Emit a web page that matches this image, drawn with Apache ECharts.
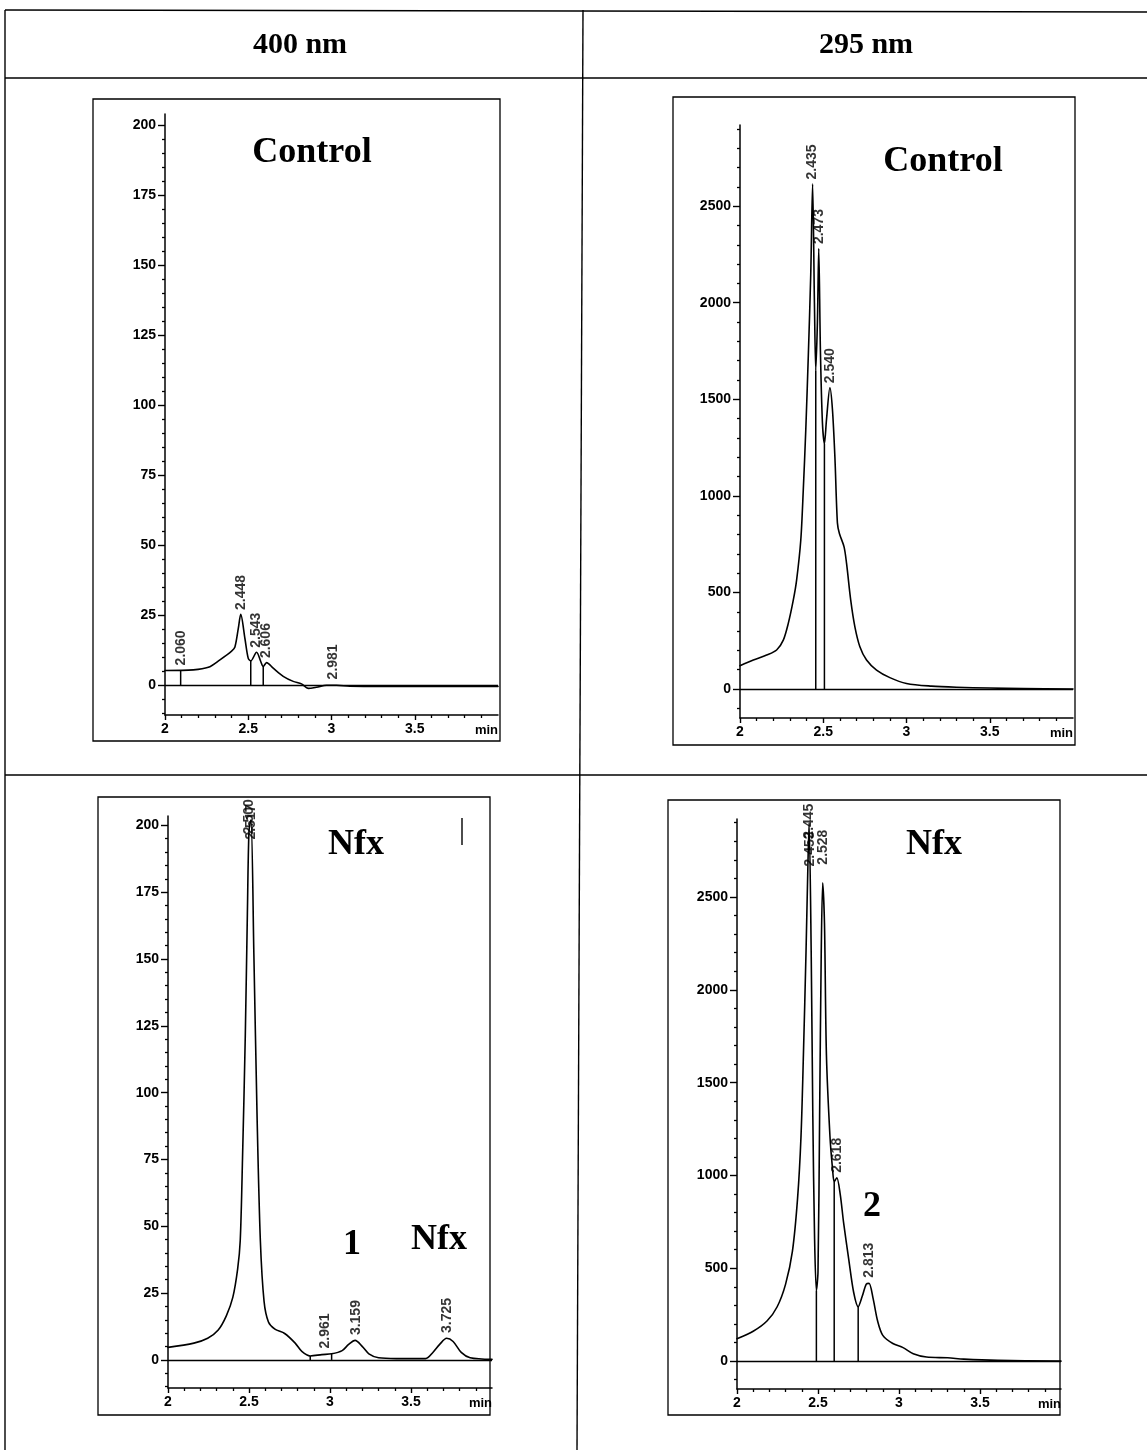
<!DOCTYPE html>
<html>
<head>
<meta charset="utf-8">
<title>Chromatograms 400 nm / 295 nm</title>
<script src="https://cdn.jsdelivr.net/npm/echarts@6/dist/echarts.min.js"></script>
<style>
  html, body { margin: 0; padding: 0; background: #fff; }
  #main { width: 1147px; height: 1450px; }
</style>
</head>
<body>
<div id="main"></div>
<script>
  // 400 nm, control
  var timeA = [2.0, 2.17, 2.26, 2.33, 2.40, 2.42, 2.44, 2.455, 2.48, 2.50, 2.515, 2.55, 2.575, 2.59, 2.61, 2.65, 2.71, 2.77, 2.82, 2.86, 2.91, 2.97, 3.03, 3.11, 3.4, 3.7, 4.0]
  var signalA = [5.4, 5.6, 6.5, 9.2, 12.3, 13.8, 20.3, 25.4, 16.8, 9.7, 8.8, 11.9, 8.6, 6.8, 8.2, 6.2, 3.3, 1.5, 0.6, -1.0, -0.6, 0.1, 0.1, -0.2, -0.3, -0.3, -0.3]
  var dropTimeA = [2.094, 2.515, 2.59]
  var dropHeightA = [5.5, 8.8, 6.8]
  var peakTimeA = [2.094, 2.455, 2.55, 2.61, 3.01]
  var peakHeightA = [5.6, 25.4, 11.9, 8.2, 0.6]
  var peakLabelA = ['2.060', '2.448', '2.543', '2.606', '2.981']

  // 295 nm, control
  var timeB = [2.0, 2.08, 2.16, 2.22, 2.26, 2.29, 2.32, 2.34, 2.365, 2.38, 2.395, 2.41, 2.425, 2.436, 2.447, 2.455, 2.465, 2.473, 2.483, 2.495, 2.507, 2.52, 2.54, 2.555, 2.57, 2.585, 2.597, 2.625, 2.64, 2.665, 2.69, 2.72, 2.76, 2.82, 2.9, 3.0, 3.15, 3.3, 3.5, 3.7, 4.0]
  var signalB = [121, 150, 176, 202, 253, 340, 460, 564, 770, 1029, 1340, 1719, 2150, 2615, 2000, 1650, 1900, 2280, 1750, 1380, 1270, 1400, 1560, 1450, 1200, 860, 805, 736, 650, 460, 322, 219, 150, 98, 59, 29, 15, 9, 5, 2, 0]
  var dropTimeB = [2.455, 2.507]
  var dropHeightB = [1650, 1270]
  var peakTimeB = [2.436, 2.473, 2.54]
  var peakHeightB = [2615, 2280, 1560]
  var peakLabelB = ['2.435', '2.473', '2.540']

  // 400 nm, Nfx
  var timeC = [2.0, 2.16, 2.245, 2.31, 2.36, 2.40, 2.43, 2.446, 2.46, 2.477, 2.49, 2.50, 2.512, 2.53, 2.55, 2.57, 2.593, 2.62, 2.66, 2.72, 2.785, 2.826, 2.878, 2.95, 3.01, 3.075, 3.115, 3.155, 3.2, 3.24, 3.30, 3.41, 3.59, 3.635, 3.677, 3.72, 3.76, 3.81, 3.865, 4.0]
  var signalC = [4.7, 6.3, 8.1, 11.2, 16.5, 23.4, 34.1, 44.8, 75.4, 121, 167, 198, 202, 152, 90.7, 44.8, 21.9, 14.2, 11.5, 9.9, 6.3, 3.2, 1.5, 2.0, 2.3, 3.5, 5.8, 7.3, 5.0, 2.3, 0.8, 0.5, 0.5, 2.8, 5.8, 8.1, 6.9, 2.8, 0.8, 0.2]
  var dropTimeC = [2.878, 3.01]
  var dropHeightC = [1.5, 2.3]
  var peakTimeC = [2.503, 2.513, 2.97, 3.159, 3.725]
  var peakHeightC = [195, 193, 2.6, 7.6, 8.4]
  var peakLabelC = ['2.500', '2.517', '2.961', '3.159', '3.725']

  // 295 nm, Nfx
  var timeD = [2.0, 2.10, 2.185, 2.248, 2.30, 2.342, 2.374, 2.395, 2.41, 2.426, 2.437, 2.445, 2.458, 2.468, 2.479, 2.49, 2.50, 2.51, 2.52, 2.529, 2.54, 2.552, 2.574, 2.59, 2.60, 2.616, 2.637, 2.658, 2.69, 2.72, 2.748, 2.773, 2.798, 2.815, 2.84, 2.868, 2.9, 2.962, 3.025, 3.088, 3.17, 3.30, 3.40, 3.61, 4.0]
  var signalD = [121, 161, 216, 293, 415, 591, 878, 1209, 1650, 2202, 2643, 2900, 2202, 1320, 658, 380, 481, 1320, 2202, 2577, 2357, 1650, 1209, 1033, 966, 988, 900, 746, 547, 371, 293, 349, 415, 419, 338, 216, 139, 95, 73, 40, 22, 18, 11, 4, 0]
  var dropTimeD = [2.49, 2.60, 2.748]
  var dropHeightD = [380, 966, 293]
  var peakTimeD = [2.443, 2.449, 2.529, 2.616, 2.815]
  var peakHeightD = [2790, 2640, 2650, 990, 425]
  var peakLabelD = ['2.445', '2.453', '2.528', '2.618', '2.813']

  // axis ticks
  var xMajor = [2, 2.5, 3, 3.5]
  var yMajorLow = [0, 25, 50, 75, 100, 125, 150, 175, 200]
  var yMajorHigh = [0, 500, 1000, 1500, 2000, 2500]

  var xMinor = []
  for (var k = 21; k < 40; k++) { if (k % 5) xMinor.push(k / 10) }
  var yMinorLow = []
  for (var m = -10; m <= 200; m += 5) { if (m % 25) yMinorLow.push(m) }
  var yMinorHigh = []
  for (var n = -100; n <= 2900; n += 100) { if (n % 500) yMinorHigh.push(n) }

  var sansFont = '"Liberation Sans", Arial, sans-serif'
  var serifFont = '"Liberation Serif", "Times New Roman", serif'

  function zip (a, b) {
    return a.map(function (v, i) { return [v, b[i]] })
  }
  function plain (v) {
    return String(v)
  }

  var panels = [
    { grid: { left: 165, top: 114, width: 333, height: 601 }, yMin: -10.5, yMax: 204, yMajor: yMajorLow, yMinor: yMinorLow,
      time: timeA, signal: signalA, dropT: dropTimeA, dropH: dropHeightA, peakT: peakTimeA, peakH: peakHeightA, peakL: peakLabelA },
    { grid: { left: 740, top: 125, width: 333, height: 593 }, yMin: -150, yMax: 2920, yMajor: yMajorHigh, yMinor: yMinorHigh,
      time: timeB, signal: signalB, dropT: dropTimeB, dropH: dropHeightB, peakT: peakTimeB, peakH: peakHeightB, peakL: peakLabelB },
    { grid: { left: 168, top: 816, width: 324, height: 572 }, yMin: -10.5, yMax: 203.5, yMajor: yMajorLow, yMinor: yMinorLow,
      time: timeC, signal: signalC, dropT: dropTimeC, dropH: dropHeightC, peakT: peakTimeC, peakH: peakHeightC, peakL: peakLabelC },
    { grid: { left: 737, top: 819, width: 324, height: 570 }, yMin: -150, yMax: 2920, yMajor: yMajorHigh, yMinor: yMinorHigh,
      time: timeD, signal: signalD, dropT: dropTimeD, dropH: dropHeightD, peakT: peakTimeD, peakH: peakHeightD, peakL: peakLabelD }
  ]

  var grids = []
  var xAxes = []
  var yAxes = []
  var series = []

  panels.forEach(function (p, gi) {
    grids.push(p.grid)

    // major x axis, with labels
    xAxes.push({
      gridIndex: gi, type: 'value', position: 'bottom', min: 2, max: 4,
      axisLine: { onZero: false, lineStyle: { color: '#000', width: 1.5 } },
      axisTick: { customValues: xMajor, length: 5, lineStyle: { color: '#000', width: 1.4 } },
      axisLabel: { customValues: xMajor, formatter: plain, margin: 7, color: '#000', fontFamily: sansFont, fontWeight: 'bold', fontSize: 14 },
      splitLine: { show: false },
      name: 'min', nameLocation: 'end', nameGap: 0,
      nameTextStyle: { color: '#000', fontFamily: sansFont, fontWeight: 'bold', fontSize: 13, align: 'right', verticalAlign: 'top', padding: [9, 0, 0, 0] }
    })
    // minor x ticks
    xAxes.push({
      gridIndex: gi, type: 'value', position: 'bottom', min: 2, max: 4,
      axisLine: { show: false, onZero: false },
      axisTick: { customValues: xMinor, length: 3, lineStyle: { color: '#000', width: 1.3 } },
      axisLabel: { show: false },
      splitLine: { show: false }
    })
    // major y axis
    yAxes.push({
      gridIndex: gi, type: 'value', position: 'left', min: p.yMin, max: p.yMax,
      axisLine: { show: true, onZero: false, lineStyle: { color: '#000', width: 1.5 } },
      axisTick: { show: true, customValues: p.yMajor, length: 7, lineStyle: { color: '#000', width: 1.4 } },
      axisLabel: { customValues: p.yMajor, formatter: plain, margin: 9, color: '#000', fontFamily: sansFont, fontWeight: 'bold', fontSize: 14 },
      splitLine: { show: false }
    })
    // minor y ticks
    yAxes.push({
      gridIndex: gi, type: 'value', position: 'left', min: p.yMin, max: p.yMax,
      axisLine: { show: false, onZero: false },
      axisTick: { show: true, customValues: p.yMinor, length: 3, lineStyle: { color: '#000', width: 1.3 } },
      axisLabel: { show: false },
      splitLine: { show: false }
    })

    series.push({
      type: 'line', xAxisIndex: gi * 2, yAxisIndex: gi * 2,
      data: zip(p.time, p.signal),
      symbol: 'none', showSymbol: false, smooth: 0.3,
      lineStyle: { color: '#000', width: 1.6, join: 'round', cap: 'round' },
      markLine: {
        silent: true, symbol: 'none', label: { show: false },
        lineStyle: { color: '#000', width: 1.4, type: 'solid' },
        data: [{ yAxis: 0 }]
      }
    })
    // drop lines from baseline to the curve
    series.push({
      type: 'custom', xAxisIndex: gi * 2, yAxisIndex: gi * 2,
      data: zip(p.dropT, p.dropH),
      renderItem: function (params, api) {
        var top = api.coord([api.value(0), api.value(1)])
        var bottom = api.coord([api.value(0), 0])
        return {
          type: 'line',
          shape: { x1: bottom[0], y1: bottom[1], x2: top[0], y2: top[1] },
          style: { stroke: '#000', lineWidth: 1.5 }
        }
      }
    })
    // retention time labels
    series.push({
      type: 'scatter', xAxisIndex: gi * 2, yAxisIndex: gi * 2,
      symbolSize: 1, itemStyle: { color: 'rgba(0,0,0,0)' },
      data: p.peakT.map(function (t, i) { return { name: p.peakL[i], value: [t, p.peakH[i]] } }),
      label: {
        show: true, formatter: '{b}', rotate: 90, position: 'top', distance: 4,
        align: 'left', verticalAlign: 'middle',
        color: '#000', fontFamily: sansFont, fontWeight: 'bold', fontSize: 14
      }
    })
  })

  function hline (x1, y1, x2, y2) {
    return { type: 'line', silent: true, shape: { x1: x1, y1: y1, x2: x2, y2: y2 }, style: { stroke: '#000', lineWidth: 1.4 } }
  }
  function frame (x, y, w, h) {
    return { type: 'rect', silent: true, shape: { x: x, y: y, width: w, height: h }, style: { fill: 'none', stroke: '#000', lineWidth: 1.3 } }
  }
  function label (txt, x, y, size) {
    return { type: 'text', silent: true, style: { text: txt, x: x, y: y, textAlign: 'center', textVerticalAlign: 'middle', font: 'bold ' + size + 'px ' + serifFont, fill: '#000' } }
  }

  var chart = echarts.init(document.getElementById('main'))
  chart.setOption({
    animation: false,
    backgroundColor: '#fff',
    grid: grids,
    xAxis: xAxes,
    yAxis: yAxes,
    series: series,
    graphic: [
      // table
      hline(5, 10, 1147, 12),
      hline(5, 10, 5, 1450),
      hline(5, 78, 1147, 78),
      hline(583, 10, 577, 1450),
      hline(5, 775, 1147, 775),
      label('400 nm', 300, 45, 30),
      label('295 nm', 866, 45, 30),
      // panel frames
      frame(93, 99, 407, 642),
      frame(673, 97, 402, 648),
      frame(98, 797, 392, 618),
      frame(668, 800, 392, 615),
      hline(462, 818, 462, 845),
      label('Control', 312, 153, 36),
      label('Control', 943, 162, 36),
      label('Nfx', 356, 845, 36),
      label('1', 352, 1245, 36),
      label('Nfx', 439, 1240, 36),
      label('Nfx', 934, 845, 36),
      label('2', 872, 1207, 36)
    ]
  })
</script>
</body>
</html>
